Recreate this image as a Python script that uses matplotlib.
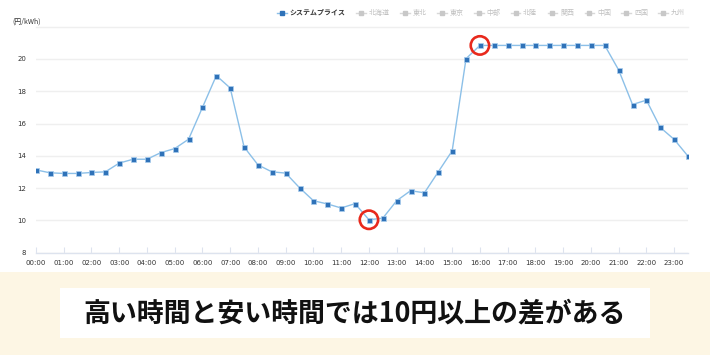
import numpy as np
import matplotlib
matplotlib.use("Agg")
import matplotlib.pyplot as plt
from matplotlib.lines import Line2D
from matplotlib.patches import Rectangle

plt.rcParams['font.family'] = ['Noto Sans CJK JP', 'DejaVu Sans']

# system price, every 30 min from 00:00 to 23:30 (yen/kWh)
prices = [13.13, 12.95, 12.91, 12.91, 12.97, 13.01, 13.55, 13.79, 13.79, 14.20,
          14.45, 15.03, 17.00, 18.97, 18.20, 14.55, 13.44, 13.01, 12.93, 12.02,
          11.22, 11.02, 10.77, 11.04, 10.04, 10.14, 11.22, 11.84, 11.71, 13.01,
          14.31, 20.02, 20.84, 20.84, 20.84, 20.84, 20.84, 20.84, 20.84, 20.84,
          20.84, 20.84, 19.32, 17.18, 17.45, 15.76, 15.02, 13.98]
hours = np.arange(len(prices)) * 0.5

hour_labels = ["00:00", "01:00", "02:00", "03:00", "04:00", "05:00", "06:00", "07:00",
               "08:00", "09:00", "10:00", "11:00", "12:00", "13:00", "14:00", "15:00",
               "16:00", "17:00", "18:00", "19:00", "20:00", "21:00", "22:00", "23:00"]
y_ticks = [8, 10, 12, 14, 16, 18, 20]
series_names = ["システムプライス", "北海道", "東北", "東京", "中部", "北陸",
                "関西", "中国", "四国", "九州"]
banner_text = "高い時間と安い時間では10円以上の差がある"

line_c = '#8cc0e8'
mark_c = '#2f72b8'
grid_c = '#efefef'

fig = plt.figure(figsize=(7.1, 3.55), dpi=100)
fig.patch.set_facecolor('white')
ax = fig.add_axes([36/710, 1 - 252.7/355, 652/710, 226/355])

ax.plot(hours, prices, color=line_c, lw=1.0, marker='s', ms=3.6,
        mfc=mark_c, mec='#a9cdee', mew=0.5, zorder=3)

# highlight cheapest and most expensive slots
p = np.array(prices)
for i in [int(np.argmin(p)), int(np.argmax(p))]:
    ax.scatter(hours[i], prices[i], s=175, facecolors='none',
               edgecolors='#e8291c', linewidths=1.9, zorder=4)

ax.set_xlim(0, 23.5)
ax.set_ylim(8, 22)
ax.set_xticks(range(24))
ax.set_xticklabels(hour_labels, family='Liberation Sans Narrow', fontsize=5, color='#333333')
ax.set_yticks(y_ticks)
ax.set_yticklabels([str(v) for v in y_ticks], family='Liberation Sans Narrow',
                   fontsize=5, color='#333333')
ax.tick_params(axis='y', length=0, pad=7)
ax.tick_params(axis='x', direction='in', length=4, width=0.8, color='#dde3ee', pad=5)
ax.grid(axis='y', color=grid_c, lw=1.0)
ax.set_axisbelow(True)
for s in ['left', 'right']:
    ax.spines[s].set_visible(False)
ax.spines['top'].set_color(grid_c)
ax.spines['top'].set_linewidth(1.0)
ax.spines['bottom'].set_color('#dde3ee')
ax.spines['bottom'].set_linewidth(1.0)
ax.text(-0.037, 1.022, "(円/kWh)", transform=ax.transAxes, fontsize=5,
        color='#333333', ha='left', va='center')

# legend
handles = []
for k, name in enumerate(series_names):
    c = mark_c if k == 0 else '#c8c8c8'
    lc = line_c if k == 0 else '#d8d8d8'
    handles.append(Line2D([0], [0], color=lc, lw=1.0, marker='s', ms=3,
                          mfc=c, mec=c))
leg = fig.legend(handles, series_names, loc='center', ncol=10,
                 bbox_to_anchor=(481/710, 1 - 13/355), frameon=False,
                 fontsize=5, handlelength=1.4, handletextpad=0.4,
                 columnspacing=1.5)
for k, t in enumerate(leg.get_texts()):
    if k == 0:
        t.set_color('#333333')
        t.set_fontweight('bold')
    else:
        t.set_color('#c0c0c0')

# banner at the bottom
fig.add_artist(Rectangle((0, 0), 1, 83/355, transform=fig.transFigure,
                         facecolor='#fdf6e4', edgecolor='none', zorder=0))
fig.add_artist(Rectangle((60/710, 1 - 338/355), 590/710, 50/355,
                         transform=fig.transFigure, facecolor='white',
                         edgecolor='none', zorder=1))
fig.text(355/710, 1 - 313/355, banner_text, fontsize=19.4, fontweight='bold',
         color='#111111', ha='center', va='center', zorder=2)

fig.savefig('out.png', dpi=100)
